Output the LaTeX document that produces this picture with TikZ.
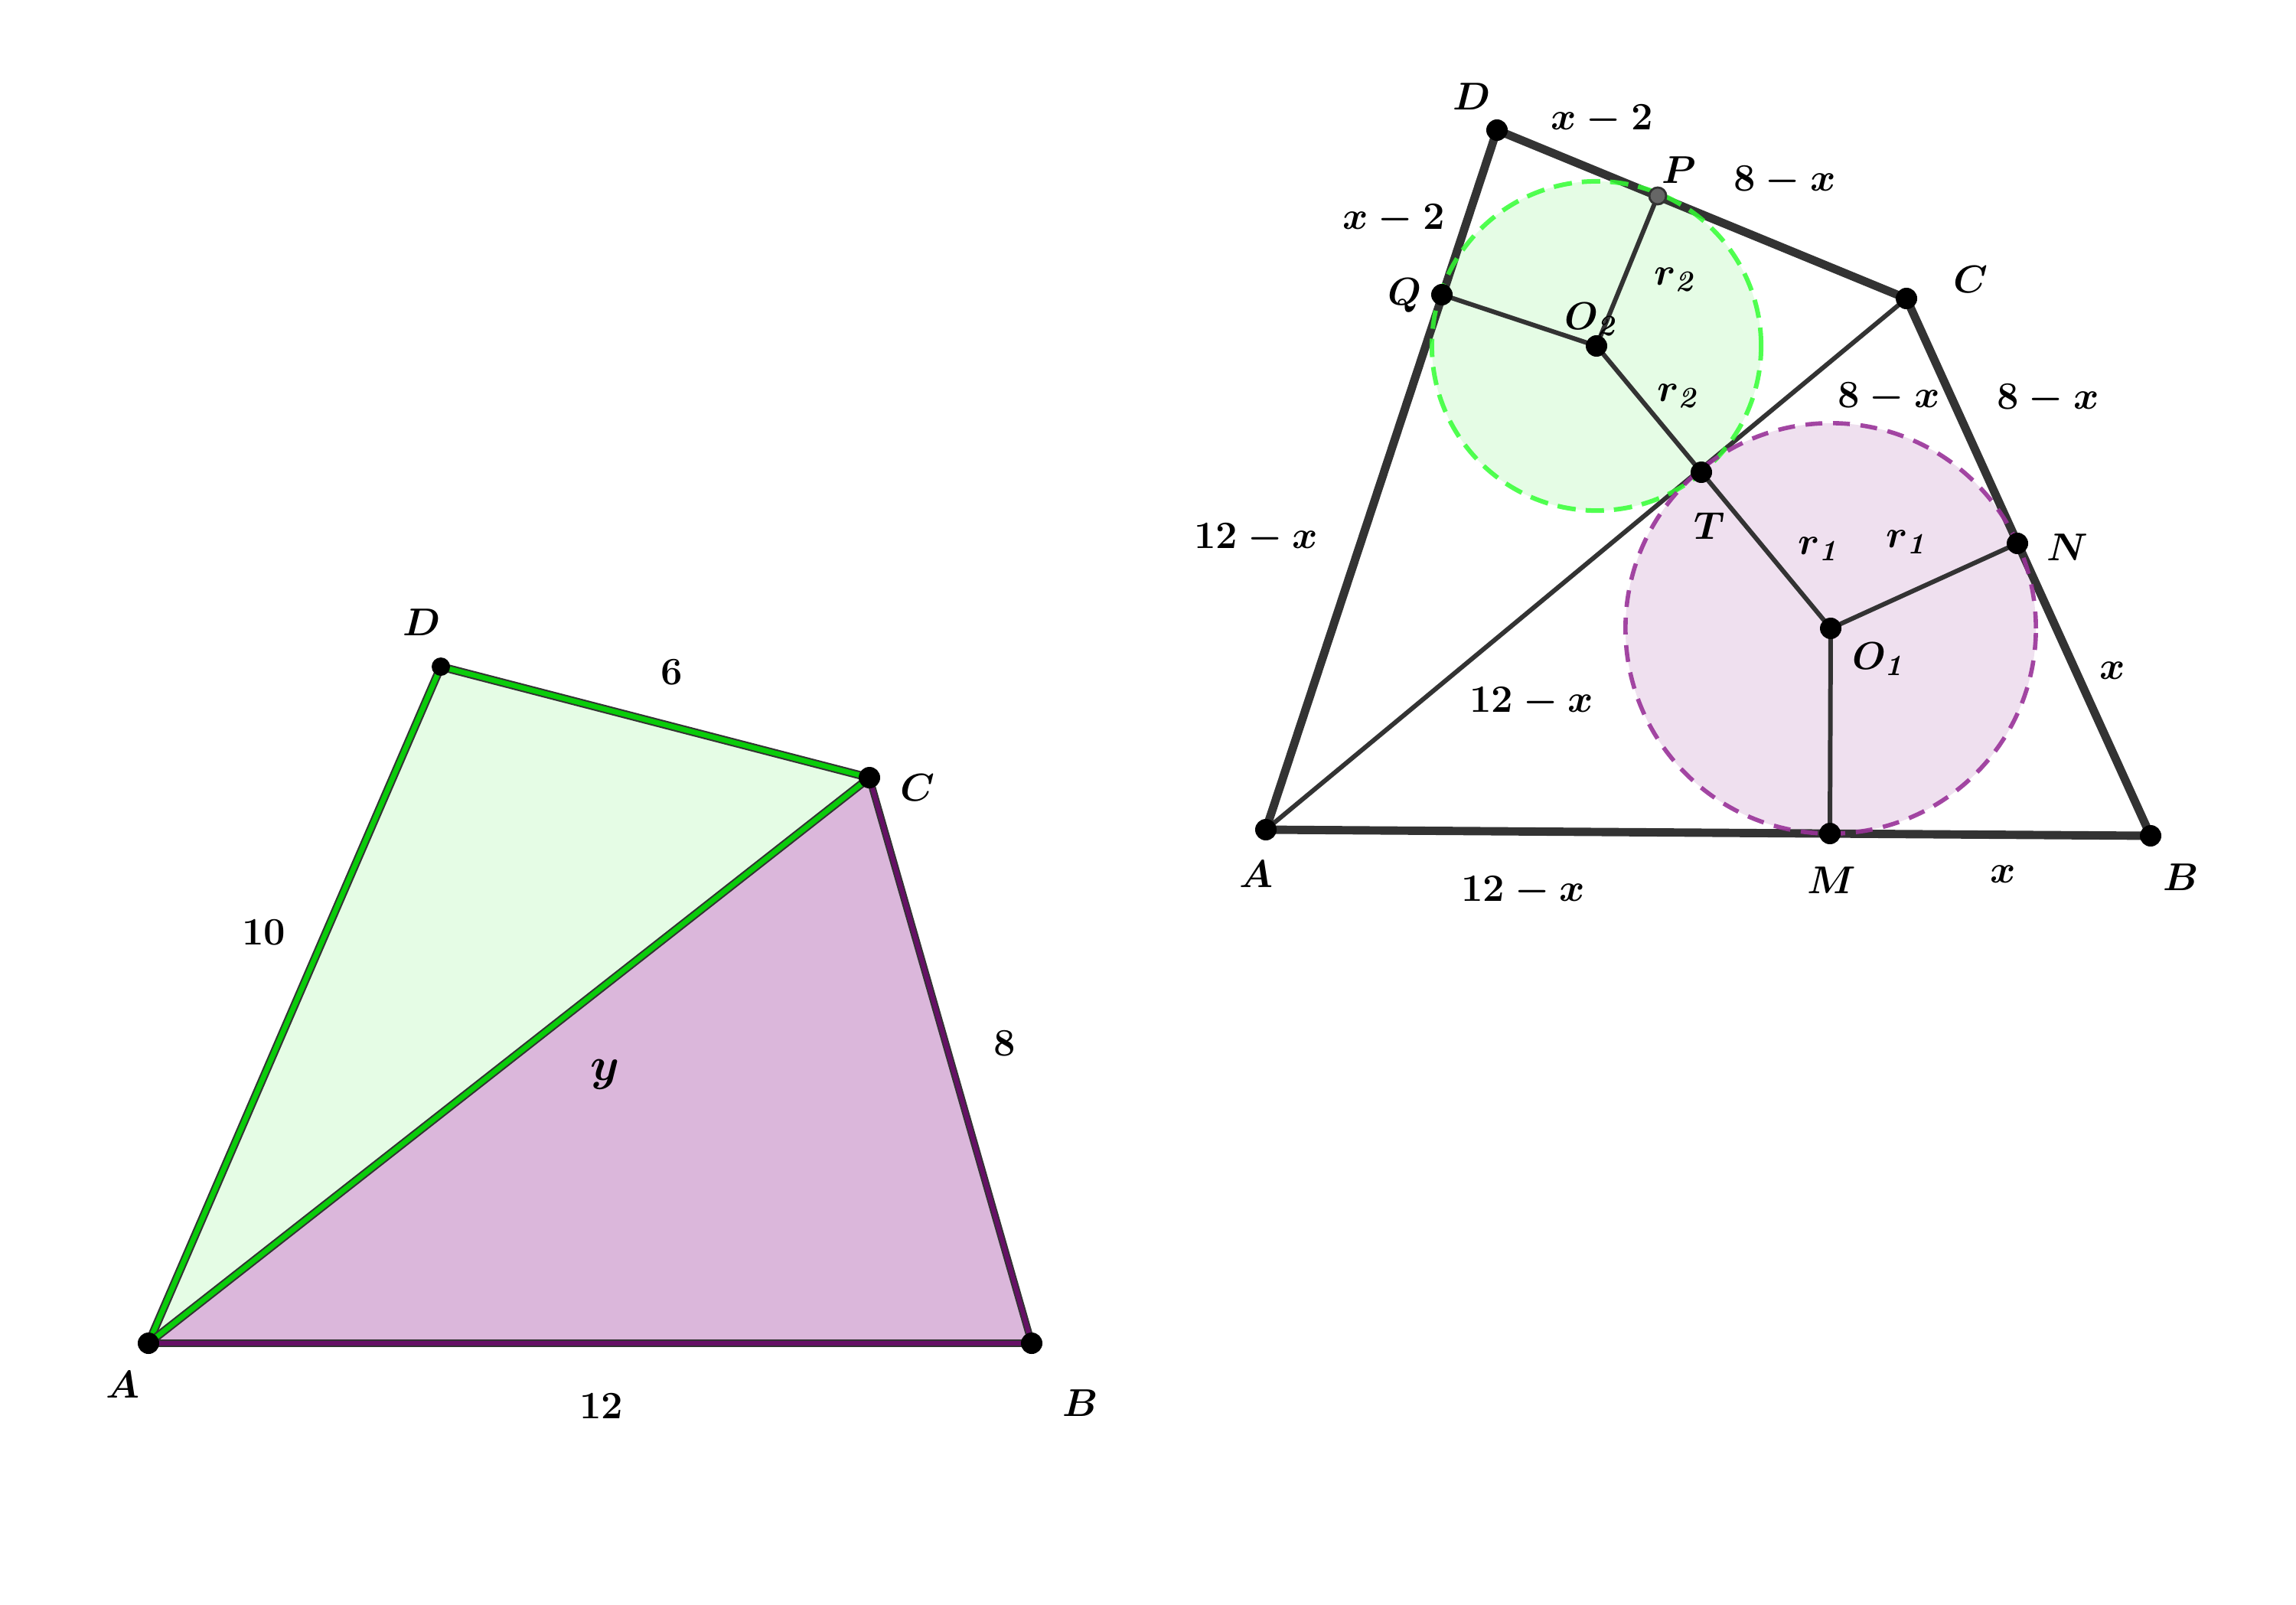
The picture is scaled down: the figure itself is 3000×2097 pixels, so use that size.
\documentclass[tikz,border=0pt]{standalone}
\usepackage{amsmath}
\definecolor{ggreen}{RGB}{10,204,10}
\definecolor{lgreen}{RGB}{229,252,229}
\definecolor{gpurp}{RGB}{102,16,102}
\definecolor{lpurp}{RGB}{219,183,219}
\definecolor{cgreen}{RGB}{51,255,51}
\definecolor{cpurp}{RGB}{153,51,153}
\definecolor{lpurpc}{RGB}{239,224,239}
\definecolor{dk}{RGB}{51,51,51}
\definecolor{pgray}{RGB}{102,102,102}
\begin{document}
\begin{tikzpicture}[x=0.01cm,y=-0.01cm,
  lab/.style={font=\fontsize{15.5}{18}\selectfont\boldmath, inner sep=0pt},
  gedge/.style={draw=dk, line width=0.6pt, double=ggreen, double distance=1.9pt},
  pedge/.style={draw=dk, line width=0.55pt, double=gpurp, double distance=1.6pt},
  thickside/.style={draw=dk, line width=3.1pt},
  thinside/.style={draw=dk, line width=1.7pt},
  dot/.style={fill=black},
]
\useasboundingbox (0,0) rectangle (3000,2097);

% ---------------- left figure ----------------
\coordinate (LA) at (194,1755);
\coordinate (LB) at (1348,1755);
\coordinate (LC) at (1136,1016);
\coordinate (LD) at (576,871);

\fill[lpurp] (LA)--(LB)--(LC)--cycle;
\fill[lgreen] (LA)--(LC)--(LD)--cycle;
\draw[pedge] (LA)--(LB);
\draw[pedge] (LB)--(LC);
\draw[gedge] (LA)--(LD);
\draw[gedge] (LD)--(LC);
\draw[gedge] (LA)--(LC);
\fill[dot] (LA) circle[radius=0.14cm];
\fill[dot] (LB) circle[radius=0.14cm];
\fill[dot] (LC) circle[radius=0.14cm];
\fill[dot] (LD) circle[radius=0.12cm];

\node[lab] (lDl) at (551,813) {$D$};
\node[lab] (lCl) at (1199,1029) {$C$};
\node[lab] (lAl) at (161,1809) {$A$};
\node[lab] (lBl) at (1412,1833) {$B$};
\node[lab] (l6) at (878,878) {$6$};
\node[lab] (l10) at (345,1218) {$10$};
\node[lab] (l8) at (1313,1363) {$8$};
\node[lab] (ly) at (791,1404) {\fontsize{19}{22}\selectfont$y$};
\node[lab] (l12) at (786,1837) {$12$};

% ---------------- right figure ----------------
\coordinate (A) at (1654,1084);
\coordinate (B) at (2810,1092);
\coordinate (C) at (2491,390);
\coordinate (D) at (1956,170);
\coordinate (P) at (2166,256);
\coordinate (Q) at (1884,385);
\coordinate (O2) at (2086,452);
\coordinate (T) at (2223,617);
\coordinate (O1) at (2392,821);
\coordinate (N) at (2636,710);
\coordinate (M) at (2391,1089);

\fill[lgreen] (O2) circle[radius=2.15cm];
\fill[lpurpc] (O1) circle[radius=2.68cm];

\draw[thickside] (A)--(B);
\draw[thickside] (B)--(C);
\draw[thickside] (C)--(D);
\draw[thickside] (D)--(A);
\draw[thinside] (A)--(C);
\draw[thinside] (O2)--(Q);
\draw[thinside] (O2)--(P);
\draw[thinside] (O2)--(T);
\draw[thinside] (O1)--(T);
\draw[thinside] (O1)--(N);
\draw[thinside] (O1)--(M);

\draw[cgreen, line width=1.7pt, dash pattern=on 0.24cm off 0.13cm, opacity=0.85] (O2) circle[radius=2.15cm];
\draw[cpurp, line width=1.6pt, dash pattern=on 0.22cm off 0.14cm, opacity=0.9] (O1) circle[radius=2.68cm];

\foreach \p in {A,B,C,D,Q,O2,T,O1,N,M} {\fill[dot] (\p) circle[radius=0.14cm];}
\filldraw[fill=pgray, draw=dk, line width=0.8pt] (P) circle[radius=0.11cm];

\node[lab] (Dl) at (1923,126) {$D$};
\node[lab] (Pl) at (2194,222) {$P$};
\node[lab] (Ql) at (1835,386) {$Q$};
\node[lab] (O2l) at (2080,417) {$O_{\mathit{2}}$};
\node[lab] (Cl) at (2575,365) {$C$};
\node[lab] (Tl) at (2234,687) {$T$};
\node[lab] (Nl) at (2701,715) {$N$};
\node[lab] (O1l) at (2456,861) {$O_{\mathit{1}}$};
\node[lab] (Al) at (1641,1142) {$A$};
\node[lab] (Ml) at (2393,1150) {$M$};
\node[lab] (Bl) at (2850,1146) {$B$};

\node[lab] (s1) at (2093,157) {$x-2$};
\node[lab] (s2) at (2332,237) {$8-x$};
\node[lab] (s3) at (1821,287) {$x-2$};
\node[lab] (s4) at (2190,365) {$r_{\mathit{2}}$};
\node[lab] (s5) at (2194,517) {$r_{\mathit{2}}$};
\node[lab] (s6) at (2468,520) {$8-x$};
\node[lab] (s7) at (2676,522) {$8-x$};
\node[lab] (s8) at (1641,704) {$12-x$};
\node[lab] (s9) at (2378,717) {$r_{\mathit{1}}$};
\node[lab] (s10) at (2493,708) {$r_{\mathit{1}}$};
\node[lab] (s11) at (2760,876) {$x$};
\node[lab] (s12) at (2001,918) {$12-x$};
\node[lab] (s13) at (2617,1142) {$x$};
\node[lab] (s14) at (1990,1165) {$12-x$};
\end{tikzpicture}
\end{document}
